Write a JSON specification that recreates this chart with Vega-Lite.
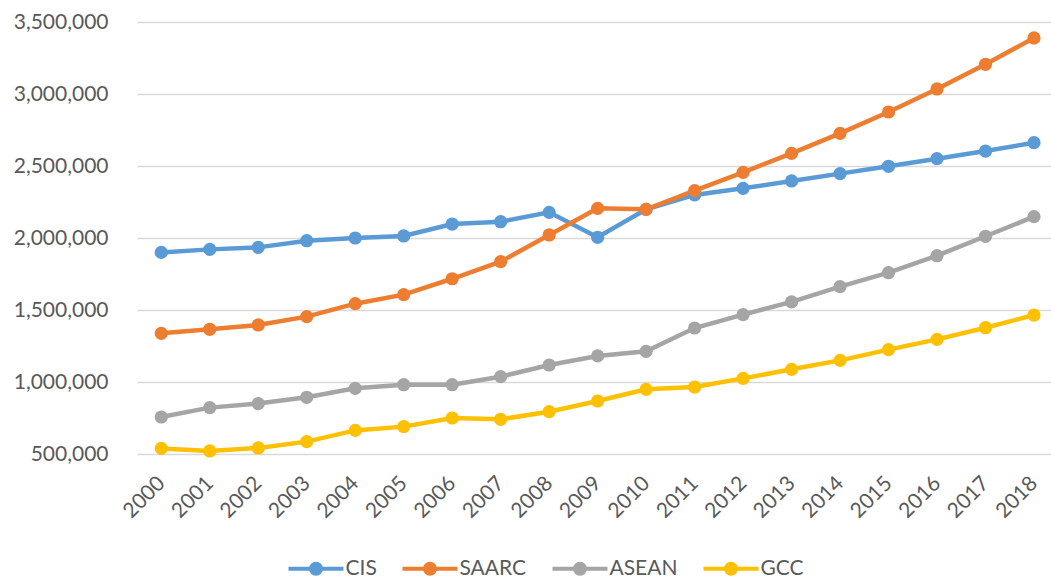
{
  "$schema": "https://vega.github.io/schema/vega-lite/v6.json",
  "width": 914,
  "height": 432,
  "autosize": {"type": "none"},
  "padding": {"left": 137, "top": 22, "right": 0, "bottom": 125},
  "background": "white",
  "config": {
    "view": {"stroke": null},
    "font": "Lato",
    "axis": {"labelFont": "Lato", "labelColor": "#595959", "labelFontSize": 21}
  },
  "data": {
    "values": [
      {"year": "2000", "region": "CIS", "value": 1900000},
      {"year": "2001", "region": "CIS", "value": 1921000},
      {"year": "2002", "region": "CIS", "value": 1935000},
      {"year": "2003", "region": "CIS", "value": 1981000},
      {"year": "2004", "region": "CIS", "value": 2000000},
      {"year": "2005", "region": "CIS", "value": 2014000},
      {"year": "2006", "region": "CIS", "value": 2097000},
      {"year": "2007", "region": "CIS", "value": 2113000},
      {"year": "2008", "region": "CIS", "value": 2178000},
      {"year": "2009", "region": "CIS", "value": 2005000},
      {"year": "2010", "region": "CIS", "value": 2199000},
      {"year": "2011", "region": "CIS", "value": 2299000},
      {"year": "2012", "region": "CIS", "value": 2345000},
      {"year": "2013", "region": "CIS", "value": 2396000},
      {"year": "2014", "region": "CIS", "value": 2447000},
      {"year": "2015", "region": "CIS", "value": 2498000},
      {"year": "2016", "region": "CIS", "value": 2551000},
      {"year": "2017", "region": "CIS", "value": 2604000},
      {"year": "2018", "region": "CIS", "value": 2662000},
      {"year": "2000", "region": "SAARC", "value": 1338000},
      {"year": "2001", "region": "SAARC", "value": 1366000},
      {"year": "2002", "region": "SAARC", "value": 1396000},
      {"year": "2003", "region": "SAARC", "value": 1454000},
      {"year": "2004", "region": "SAARC", "value": 1544000},
      {"year": "2005", "region": "SAARC", "value": 1607000},
      {"year": "2006", "region": "SAARC", "value": 1717000},
      {"year": "2007", "region": "SAARC", "value": 1836000},
      {"year": "2008", "region": "SAARC", "value": 2021000},
      {"year": "2009", "region": "SAARC", "value": 2206000},
      {"year": "2010", "region": "SAARC", "value": 2199000},
      {"year": "2011", "region": "SAARC", "value": 2329000},
      {"year": "2012", "region": "SAARC", "value": 2456000},
      {"year": "2013", "region": "SAARC", "value": 2588000},
      {"year": "2014", "region": "SAARC", "value": 2727000},
      {"year": "2015", "region": "SAARC", "value": 2875000},
      {"year": "2016", "region": "SAARC", "value": 3035000},
      {"year": "2017", "region": "SAARC", "value": 3206000},
      {"year": "2018", "region": "SAARC", "value": 3389000},
      {"year": "2000", "region": "ASEAN", "value": 757000},
      {"year": "2001", "region": "ASEAN", "value": 822000},
      {"year": "2002", "region": "ASEAN", "value": 850000},
      {"year": "2003", "region": "ASEAN", "value": 894000},
      {"year": "2004", "region": "ASEAN", "value": 956000},
      {"year": "2005", "region": "ASEAN", "value": 981000},
      {"year": "2006", "region": "ASEAN", "value": 981000},
      {"year": "2007", "region": "ASEAN", "value": 1037000},
      {"year": "2008", "region": "ASEAN", "value": 1118000},
      {"year": "2009", "region": "ASEAN", "value": 1181000},
      {"year": "2010", "region": "ASEAN", "value": 1213000},
      {"year": "2011", "region": "ASEAN", "value": 1375000},
      {"year": "2012", "region": "ASEAN", "value": 1468000},
      {"year": "2013", "region": "ASEAN", "value": 1556000},
      {"year": "2014", "region": "ASEAN", "value": 1662000},
      {"year": "2015", "region": "ASEAN", "value": 1759000},
      {"year": "2016", "region": "ASEAN", "value": 1877000},
      {"year": "2017", "region": "ASEAN", "value": 2012000},
      {"year": "2018", "region": "ASEAN", "value": 2148000},
      {"year": "2000", "region": "GCC", "value": 539000},
      {"year": "2001", "region": "GCC", "value": 521000},
      {"year": "2002", "region": "GCC", "value": 542000},
      {"year": "2003", "region": "GCC", "value": 586000},
      {"year": "2004", "region": "GCC", "value": 664000},
      {"year": "2005", "region": "GCC", "value": 690000},
      {"year": "2006", "region": "GCC", "value": 750000},
      {"year": "2007", "region": "GCC", "value": 741000},
      {"year": "2008", "region": "GCC", "value": 794000},
      {"year": "2009", "region": "GCC", "value": 868000},
      {"year": "2010", "region": "GCC", "value": 949000},
      {"year": "2011", "region": "GCC", "value": 965000},
      {"year": "2012", "region": "GCC", "value": 1025000},
      {"year": "2013", "region": "GCC", "value": 1088000},
      {"year": "2014", "region": "GCC", "value": 1150000},
      {"year": "2015", "region": "GCC", "value": 1225000},
      {"year": "2016", "region": "GCC", "value": 1296000},
      {"year": "2017", "region": "GCC", "value": 1377000},
      {"year": "2018", "region": "GCC", "value": 1465000}
    ]
  },
  "encoding": {
    "x": {
      "field": "year",
      "type": "ordinal",
      "title": null,
      "scale": {"type": "point", "padding": 0.426, "align": 0.588},
      "axis": {
        "labelAngle": -45,
        "labelAlign": "right",
        "labelBaseline": "middle",
        "labelPadding": 26,
        "ticks": false,
        "domain": false,
        "grid": false
      }
    },
    "y": {
      "field": "value",
      "type": "quantitative",
      "title": null,
      "scale": {"domain": [500000, 3500000], "nice": false, "zero": false},
      "axis": {
        "values": [500000, 1000000, 1500000, 2000000, 2500000, 3000000, 3500000],
        "format": ",d",
        "ticks": false,
        "domain": false,
        "labelPadding": 29,
        "gridColor": "#D9D9D9",
        "gridWidth": 1.3
      }
    },
    "color": {
      "field": "region",
      "type": "nominal",
      "scale": {
        "domain": ["CIS", "SAARC", "ASEAN", "GCC"],
        "range": ["#5B9BD5", "#ED7D31", "#A5A5A5", "#FFC000"]
      },
      "legend": {
        "title": null,
        "orient": "none",
        "direction": "horizontal",
        "legendX": 146,
        "legendY": 536,
        "padding": 0,
        "symbolType": "M-5.5,0L5.5,0M-1,0A1,1,0,1,1,1,0A1,1,0,1,1,-1,0Z",
        "symbolSize": 100,
        "symbolStrokeWidth": 4,
        "symbolOffset": 22.5,
        "labelOffset": 19,
        "labelFont": "Lato",
        "labelFontSize": 21,
        "labelColor": "#595959",
        "columnPadding": 17
      }
    }
  },
  "layer": [
    {"mark": {"type": "line", "strokeWidth": 4.5}},
    {"mark": {"type": "point", "filled": true, "size": 175, "opacity": 1}}
  ]
}
